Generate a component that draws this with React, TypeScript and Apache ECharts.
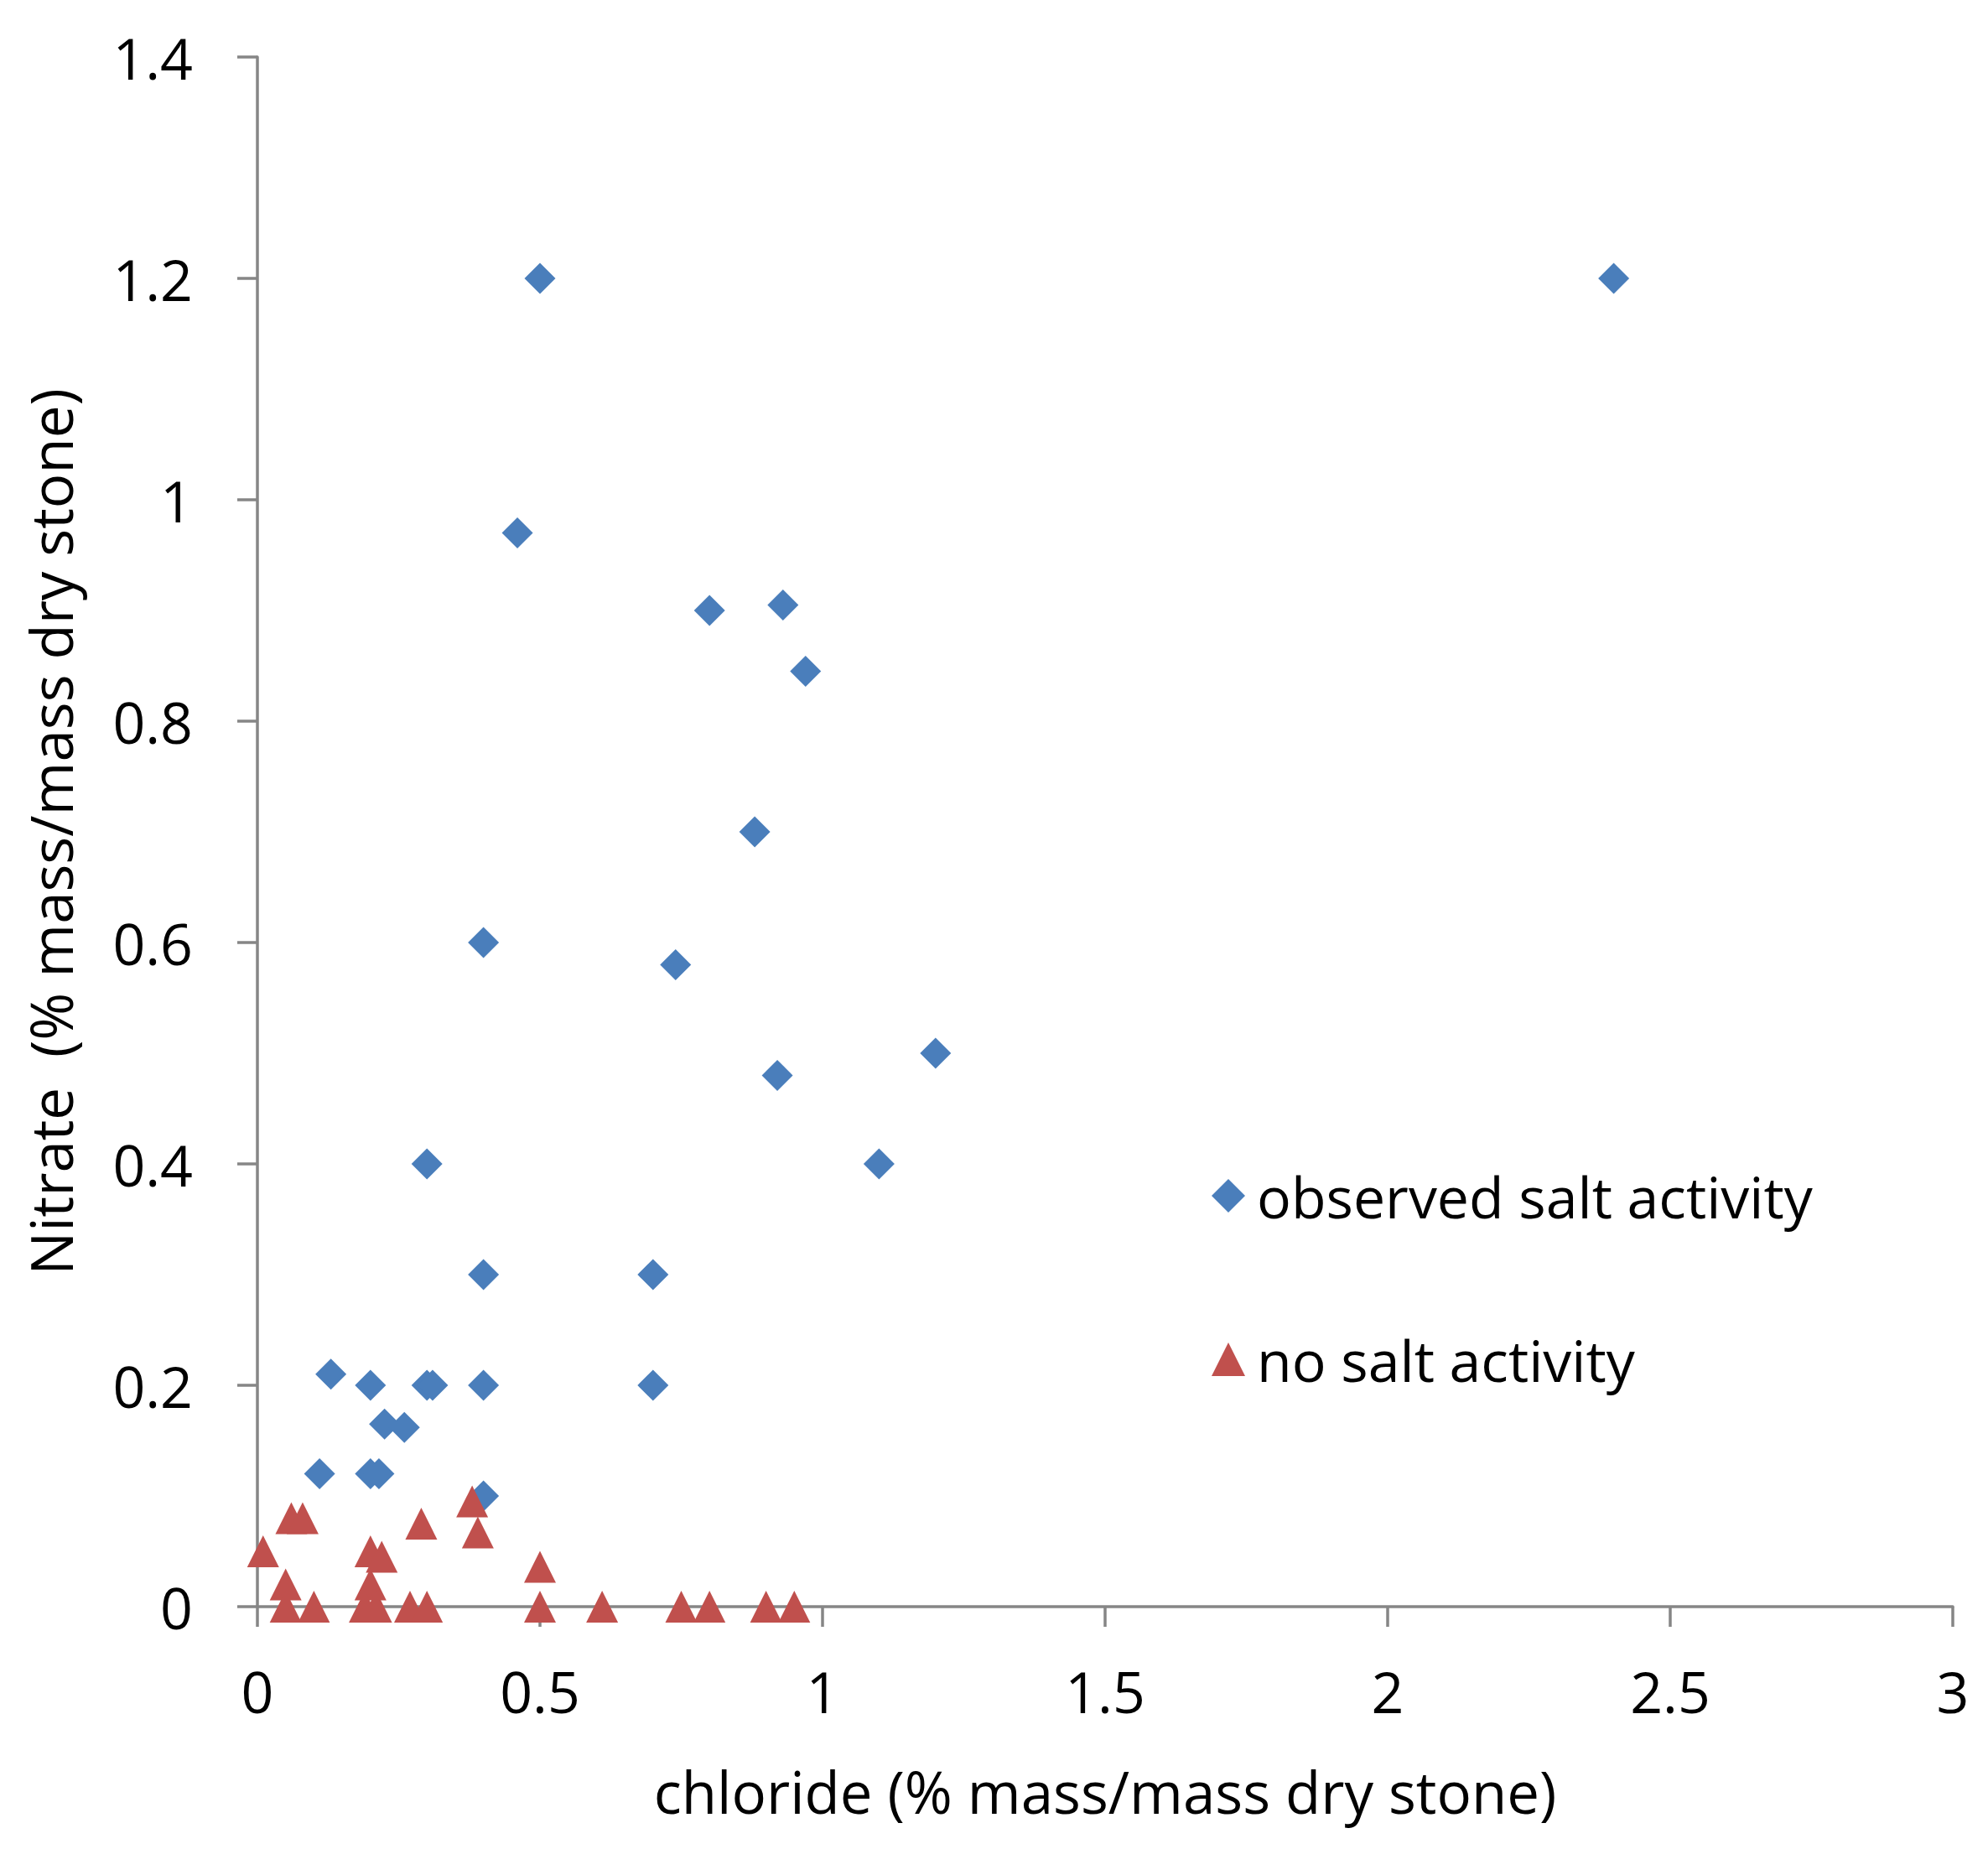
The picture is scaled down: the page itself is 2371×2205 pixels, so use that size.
import React, { useEffect, useRef } from "react";
import * as echarts from "echarts";

const xTicks = [0, 0.5, 1, 1.5, 2, 2.5, 3];
const yTicks = [0, 0.2, 0.4, 0.6, 0.8, 1, 1.2, 1.4];

const observedNames = "observed salt activity";
const noActivityName = "no salt activity";

const observedX = [0.5, 2.4, 0.46, 0.8, 0.93, 0.97, 0.88, 0.4, 0.74, 1.2, 0.92, 0.3, 1.1, 0.4, 0.7, 0.13, 0.2, 0.3, 0.31, 0.4, 0.7, 0.225, 0.26, 0.11, 0.2, 0.215, 0.4];
const observedY = [1.2, 1.2, 0.97, 0.9, 0.905, 0.845, 0.7, 0.6, 0.58, 0.5, 0.48, 0.4, 0.4, 0.3, 0.3, 0.21, 0.2, 0.2, 0.2, 0.2, 0.2, 0.165, 0.162, 0.12, 0.12, 0.12, 0.1];

const noX = [0.01, 0.06, 0.08, 0.05, 0.05, 0.1, 0.2, 0.22, 0.2, 0.19, 0.21, 0.27, 0.3, 0.29, 0.38, 0.39, 0.5, 0.5, 0.61, 0.75, 0.8, 0.9, 0.95];
const noY = [0.05, 0.08, 0.08, 0.02, 0, 0, 0.05, 0.045, 0.02, 0, 0, 0, 0, 0.075, 0.095, 0.067, 0.036, 0, 0, 0, 0, 0, 0];

const FONT = "'Open Sans', 'DejaVu Sans', sans-serif";
const AXIS_COLOR = "#868686";

export default function App() {
  const ref = useRef<HTMLDivElement>(null);
  useEffect(() => {
    document.body.style.margin = "0";
    const chart = echarts.init(ref.current!, undefined, { renderer: "svg" });
    const axisCommon = {
      type: "value" as const,
      nameLocation: "middle" as const,
      axisLine: { show: true, lineStyle: { color: AXIS_COLOR, width: 3.5 } },
      axisTick: { show: true, inside: false, length: 24, lineStyle: { color: AXIS_COLOR, width: 3.5 } },
      splitLine: { show: false },
      axisLabel: { color: "#000", fontSize: 68, fontFamily: FONT },
      nameTextStyle: { color: "#000", fontSize: 69, fontFamily: FONT },
    };
    chart.setOption({
      animation: false,
      backgroundColor: "#fff",
      grid: { left: 307, right: 42, top: 68, bottom: 289, containLabel: false },
      xAxis: {
        ...axisCommon,
        min: xTicks[0],
        max: xTicks[xTicks.length - 1],
        interval: xTicks[1] - xTicks[0],
        name: "chloride (% mass/mass dry stone)",
        nameGap: 185,
        axisLabel: { ...axisCommon.axisLabel, margin: 66 },
      },
      yAxis: {
        ...axisCommon,
        min: yTicks[0],
        max: yTicks[yTicks.length - 1],
        interval: yTicks[1] - yTicks[0],
        name: "Nitrate  (% mass/mass dry stone)",
        nameGap: 213,
        axisLabel: { ...axisCommon.axisLabel, margin: 77 },
      },
      legend: {
        orient: "vertical",
        left: 1440,
        top: 1381,
        itemWidth: 40,
        itemHeight: 40,
        itemGap: 115,
        textStyle: { color: "#000", fontSize: 68, fontFamily: FONT, lineHeight: 80, padding: [0, 0, 0, 9] },
        data: [observedNames, noActivityName],
      },
      series: [
        {
          name: observedNames,
          type: "scatter",
          symbol: "diamond",
          symbolSize: 37,
          itemStyle: { color: "#4a7ebb", opacity: 1 },
          data: observedX.map((x, i) => [x, observedY[i]]),
        },
        {
          name: noActivityName,
          type: "scatter",
          symbol: "triangle",
          symbolSize: 38,
          itemStyle: { color: "#c0504d", opacity: 1 },
          data: noX.map((x, i) => [x, noY[i]]),
        },
      ],
    });
    return () => chart.dispose();
  }, []);
  return <div ref={ref} style={{ width: 2371, height: 2205 }} />;
}
